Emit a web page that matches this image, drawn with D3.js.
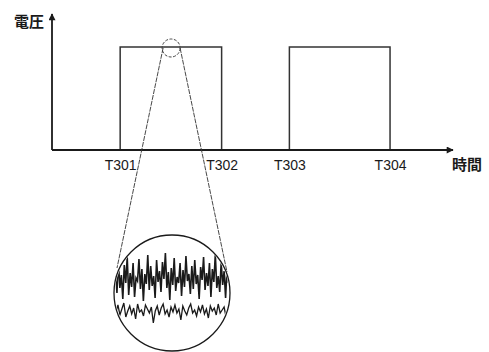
<!DOCTYPE html>
<html><head><meta charset="utf-8">
<script src="https://cdn.jsdelivr.net/npm/d3@7/dist/d3.min.js"></script>
<style>body{margin:0;background:#fff}svg{display:block}</style>
</head><body>
<svg id="c" width="489" height="352"></svg>
<script>
// ---- data ----
const tickLabels = ["T301", "T302", "T303", "T304"];
const tickTimes = [17, 42.3, 59.2, 84.3];
const pulses = [[17, 42.3], [59.2, 84.3]];   // [start, end] times
const pulseLevel = [1, 1];
const axisLabels = ["電圧", "時間"];
const zoomTime = 29.7;  // time of zoomed detail on pulse 1
// noise detail inside the magnifier (arbitrary units)
const noiseUpper = [8,24,0,32,5,18,-6,28,10,36,-2,20,6,30,-4,15,12,34,4,24,-8,19,9,38,3,27,7,17,-5,33,11,22,1,31,14,40,5,21,-7,25,8,35,2,16,10,30,-3,23,6,37,12,19,-1,27,4,33,9,18,-6,26,13,36,3,20,7,30,-4,24,11,39,5,17,1,31,8,22,-5,26,10,34];
const noiseLower = [-14,-20,-12,-22,-16,-10,-24,-18,-13,-21,-15,-26,-11,-19,-17,-23,-12,-16,-20,-14,-30,-18,-13,-22,-15,-11,-21,-17,-24,-14,-19,-12,-20,-16,-27,-13,-18,-22,-15,-11,-20,-17,-23,-14,-19,-12,-21,-16,-25,-13,-18,-15,-22,-11,-20,-17,-14,-24,-16,-19];

const svg = d3.select("#c");
const x = d3.scaleLinear().domain([0, 100]).range([52, 453]);
const y = d3.scaleLinear().domain([0, 1]).range([150, 47]);
const ink = "#1a1a1a";

const defs = svg.append("defs");
defs.append("marker").attr("id","arr").attr("viewBox","0 0 10 10").attr("refX",9).attr("refY",5)
  .attr("markerWidth",10).attr("markerHeight",7).attr("markerUnits","userSpaceOnUse").attr("orient","auto")
  .append("path").attr("d","M0,0 L10,5 L0,10 z").attr("fill",ink);

// pulses
const line = d3.line().x(d=>x(d[0])).y(d=>y(d[1]));
pulses.forEach((p,i)=>{
  svg.append("path").attr("d", line([[p[0],0],[p[0],pulseLevel[i]],[p[1],pulseLevel[i]],[p[1],0]]))
    .attr("fill","none").attr("stroke","#333").attr("stroke-width",1.5);
});

// axes lines with arrows
svg.append("line").attr("x1",x(0)).attr("y1",y(0)).attr("x2",x(100)).attr("y2",y(0))
  .attr("stroke",ink).attr("stroke-width",1.8).attr("marker-end","url(#arr)");
svg.append("line").attr("x1",x(0)).attr("y1",y(0)).attr("x2",x(0)).attr("y2",y(1.32))
  .attr("stroke",ink).attr("stroke-width",1.8).attr("marker-end","url(#arr)");

// x axis tick labels
const ax = d3.axisBottom(x).tickValues(tickTimes).tickFormat((d,i)=>tickLabels[i]).tickSize(0).tickPadding(10);
const g = svg.append("g").attr("transform",`translate(0,${y(0)})`).call(ax);
g.select(".domain").remove();
g.selectAll("text").attr("font-family","Liberation Sans, Arial, sans-serif").attr("font-size",14).attr("fill",ink);

// axis titles
svg.append("text").attr("x",x(0)-8).attr("y",27).attr("text-anchor","end")
  .attr("font-family","Noto Sans CJK JP").attr("font-size",15).attr("font-weight",700).attr("fill",ink).text(axisLabels[0]);
svg.append("text").attr("x",x(100)+14).attr("y",170).attr("text-anchor","middle")
  .attr("font-family","Noto Sans CJK JP").attr("font-size",15).attr("font-weight",700).attr("fill",ink).text(axisLabels[1]);

// magnifier
const sc = {cx: x(zoomTime), cy: y(1)+1, r: 9};
const bc = {cx: 172, cy: 293, r: 58};
svg.append("circle").attr("cx",sc.cx).attr("cy",sc.cy).attr("r",sc.r)
  .attr("fill","none").attr("stroke","#444").attr("stroke-width",1).attr("stroke-dasharray","3,1.5");
svg.append("line").attr("x1",sc.cx-8).attr("y1",sc.cy).attr("x2",117).attr("y2",268)
  .attr("stroke","#333").attr("stroke-width",0.9).attr("stroke-dasharray","5,1");
svg.append("line").attr("x1",sc.cx+9).attr("y1",sc.cy).attr("x2",227).attr("y2",272)
  .attr("stroke","#333").attr("stroke-width",0.9).attr("stroke-dasharray","5,1");

defs.append("clipPath").attr("id","clip").append("circle").attr("cx",bc.cx).attr("cy",bc.cy).attr("r",bc.r-1);
svg.append("circle").attr("cx",bc.cx).attr("cy",bc.cy).attr("r",bc.r)
  .attr("fill","#fff").attr("stroke",ink).attr("stroke-width",1.3);

const nyU = d3.scaleLinear().domain([-50,50]).range([bc.cy+50, bc.cy-50]);
const nxU = d3.scaleLinear().domain([0, noiseUpper.length-1]).range([114, 230]);
const nxL = d3.scaleLinear().domain([0, noiseLower.length-1]).range([114, 230]);
const ng = svg.append("g").attr("clip-path","url(#clip)");
ng.append("path").attr("d", d3.line().x((d,i)=>nxU(i)).y(d=>nyU(d))(noiseUpper))
  .attr("fill","none").attr("stroke",ink).attr("stroke-width",1.6);
ng.append("path").attr("d", d3.line().x((d,i)=>nxL(i)).y(d=>nyU(d))(noiseLower))
  .attr("fill","none").attr("stroke",ink).attr("stroke-width",1.3);
</script>
</body></html>
